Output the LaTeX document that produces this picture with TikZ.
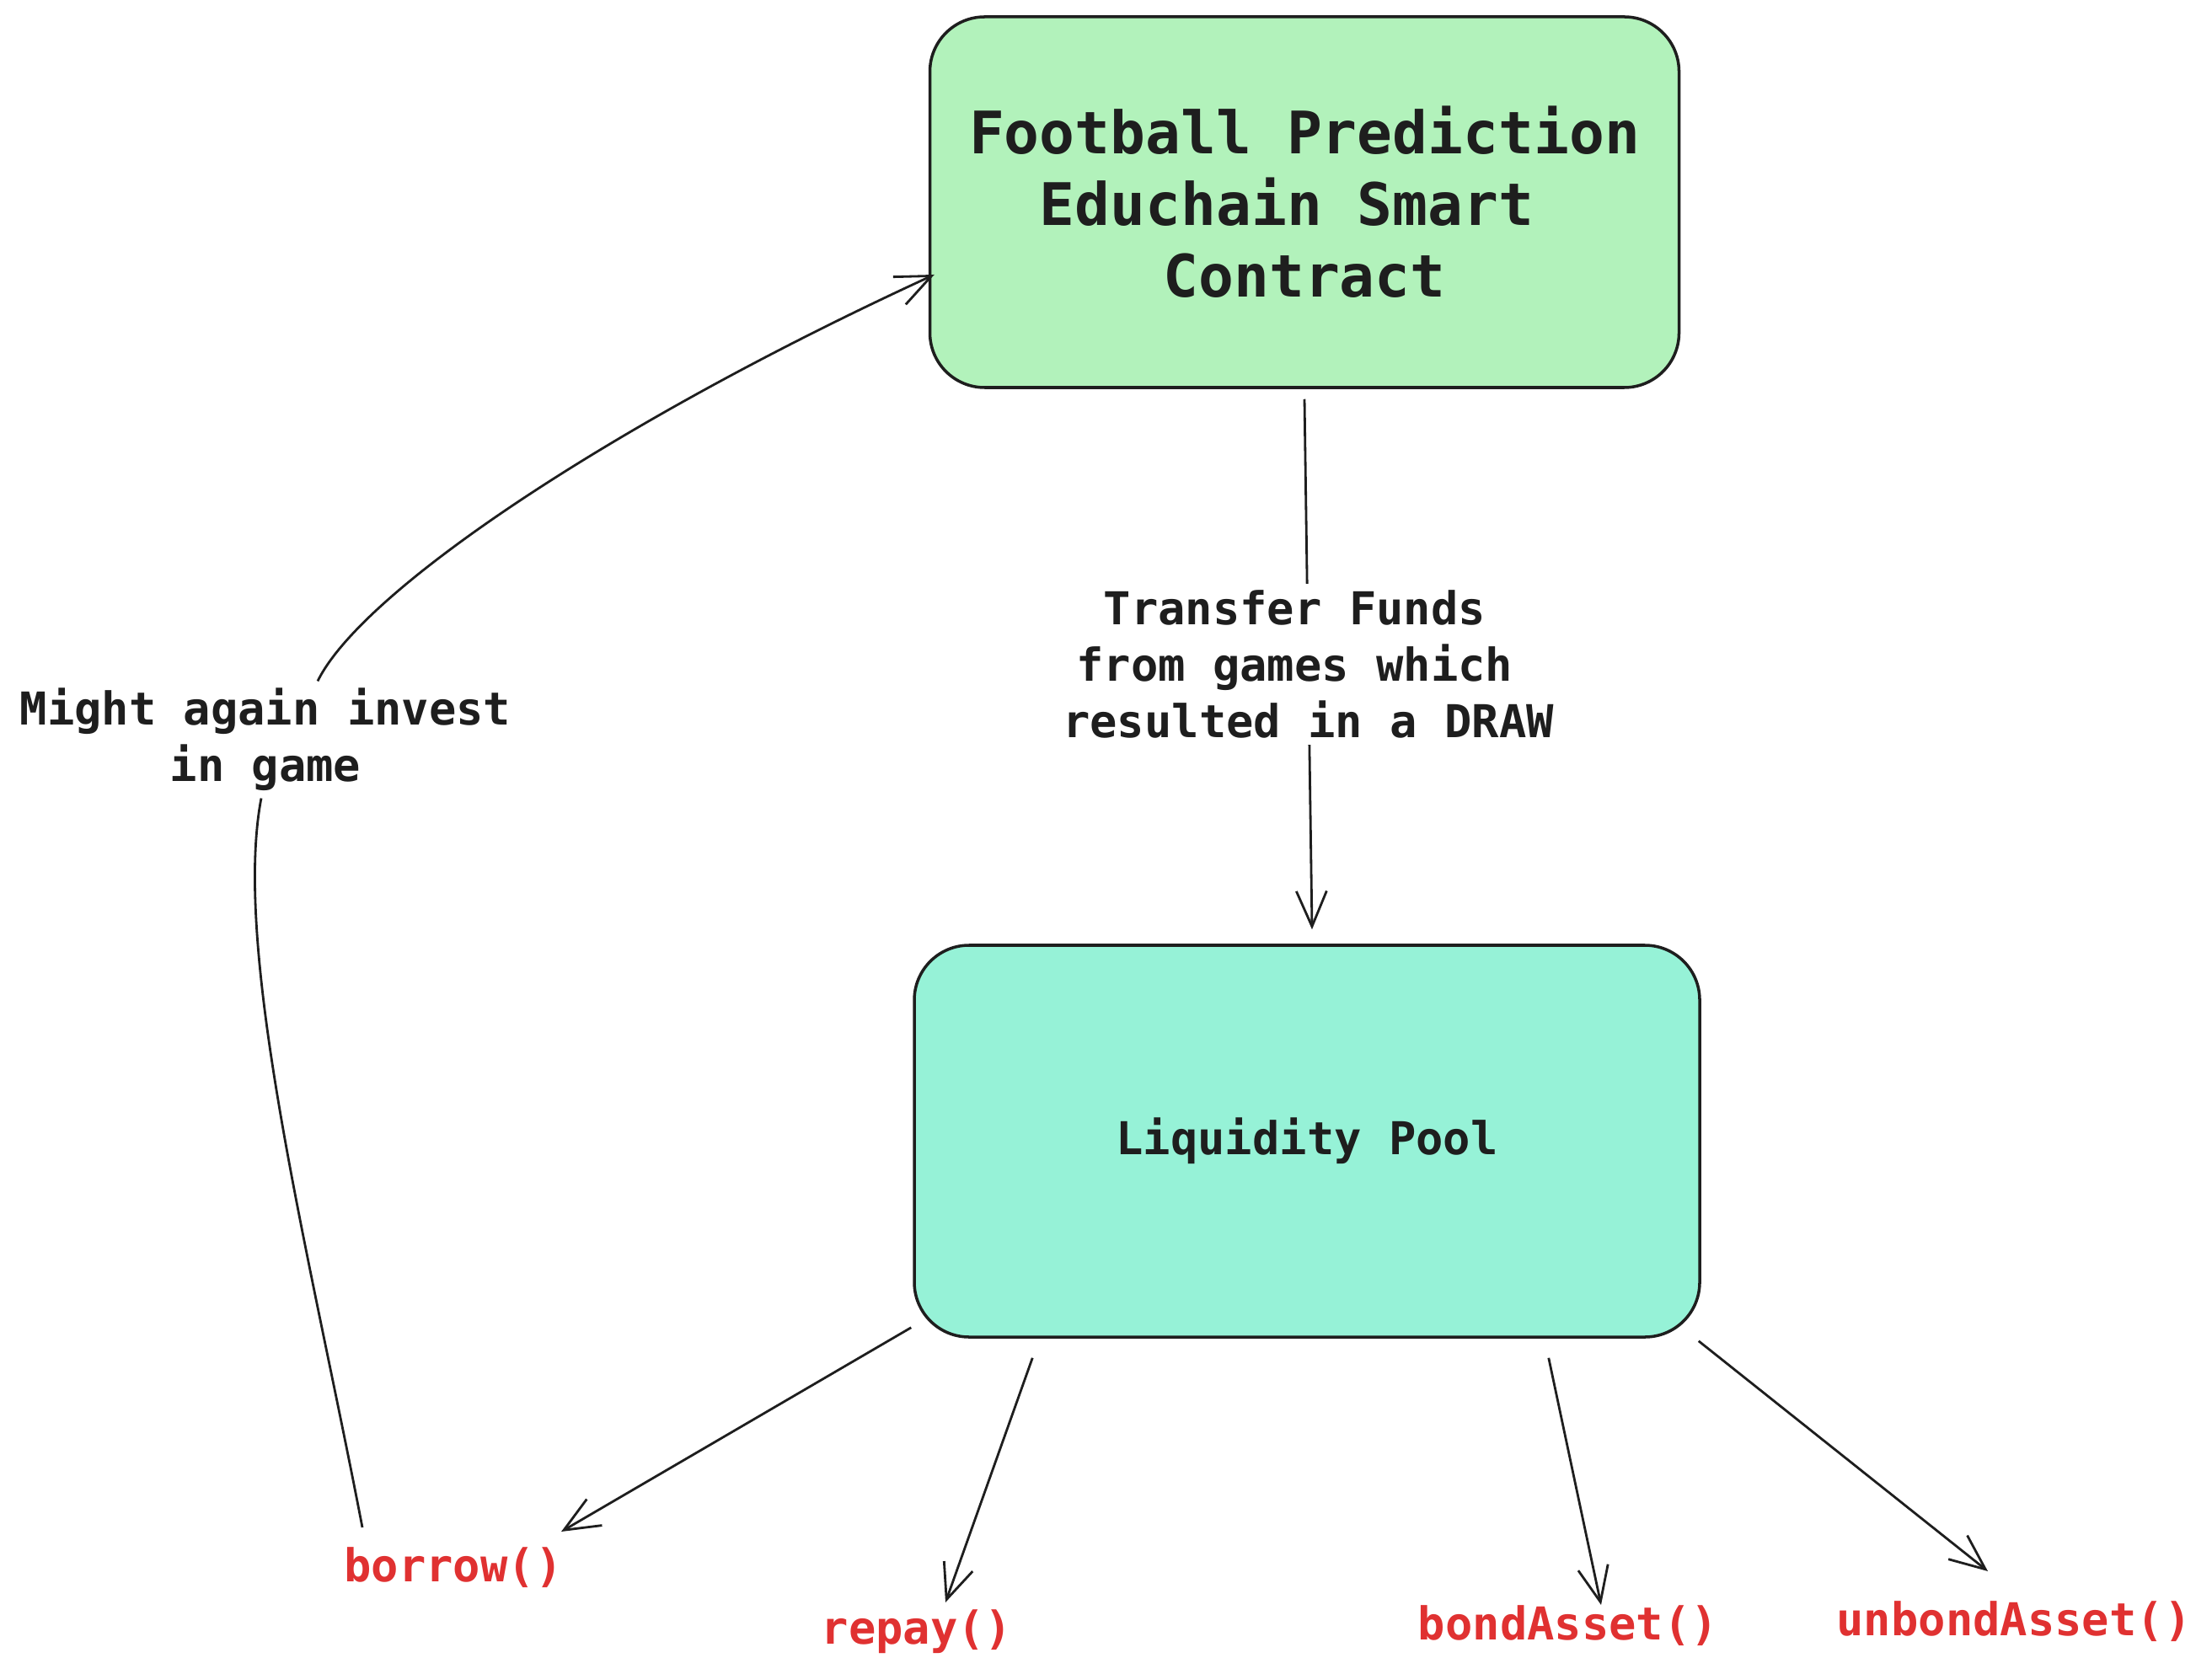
\documentclass[tikz,border=0pt]{standalone}
\usepackage{fontspec}
\setmonofont{DejaVu Sans Mono}
\usetikzlibrary{arrows.meta}
\definecolor{boxgreen}{HTML}{B2F2BB}
\definecolor{boxteal}{HTML}{96F2D7}
\definecolor{fnred}{HTML}{E03131}
\definecolor{ink}{HTML}{1E1E1E}
\tikzset{
	box/.style 2 args={draw=ink,line width=1pt,rounded corners=0.65cm,fill=#1,minimum width=#2,align=center,text=ink},
	note/.style={font=\ttfamily\bfseries\fontsize{15.3}{19}\selectfont,text=ink,align=center,inner sep=0.08cm},
	fn/.style={font=\ttfamily\bfseries\fontsize{15.3}{19}\selectfont,text=fnred,inner sep=0pt},
	wire/.style={draw=ink,line width=0.8pt},
	arr/.style={wire,-{Straight Barb[length=0.42cm,width=0.36cm]}}
}
\begin{document}
\begin{tikzpicture}
					\useasboundingbox (0,0) rectangle (26.25,-19.87);

					\node [box={boxgreen}{8.89cm},minimum height=4.40cm,font=\ttfamily\bfseries\fontsize{19.8}{24.2}\selectfont] (game) at (15.48,-2.40) {Football Prediction\\Educhain Smart\hphantom{x}\\Contract};
					\node [note,box={boxteal}{9.32cm},minimum height=4.65cm] (pool) at (15.51,-13.545) {Liquidity Pool};

					\node [fn] (borrow) at (5.38,-18.61) {borrow()};
					\node [fn] (repay) at (10.88,-19.37) {repay()};
					\node [fn] (bond) at (18.61,-19.30) {bondAsset()};
					\node [fn] (unbond) at (23.90,-19.25) {unbondAsset()};

					\node [note] (invest) at (3.15,-8.78) {Might again invest\\in game};

					\draw [arr] ([yshift=-0.12cm]game.south) -- node [note,fill=white] (transfer) {Transfer Funds\hphantom{x}\\from games which\hphantom{x}\\resulted in a DRAW} ([shift={(0.06,0.17)}]pool.north);

					\draw [arr] ([shift={(-0.02,0.13)}]pool.south west) -- ([shift={(1.28,0.43)}]borrow.center);
					\draw [arr] ([shift={(1.42,-0.23)}]pool.south west) -- ([shift={(0.34,0.35)}]repay.center);
					\draw [arr] ([shift={(-1.81,-0.23)}]pool.south east) -- ([shift={(0.39,0.25)}]bond.center);
					\draw [arr] ([shift={(-0.03,-0.03)}]pool.south east) -- ([shift={(-0.31,0.60)}]unbond.center);

					\draw [wire] ([shift={(-1.08,0.48)}]borrow.center) .. controls (3.7,-15.0) and (2.75,-11.3) .. ([xshift=-0.05cm]invest.south);
					\draw [arr] ([xshift=0.62cm]invest.north) .. controls (4.3,-7.0) and (7.3,-5.0) .. ([shift={(0.07,-0.86)}]game.west);
				\end{tikzpicture}
\end{document}
